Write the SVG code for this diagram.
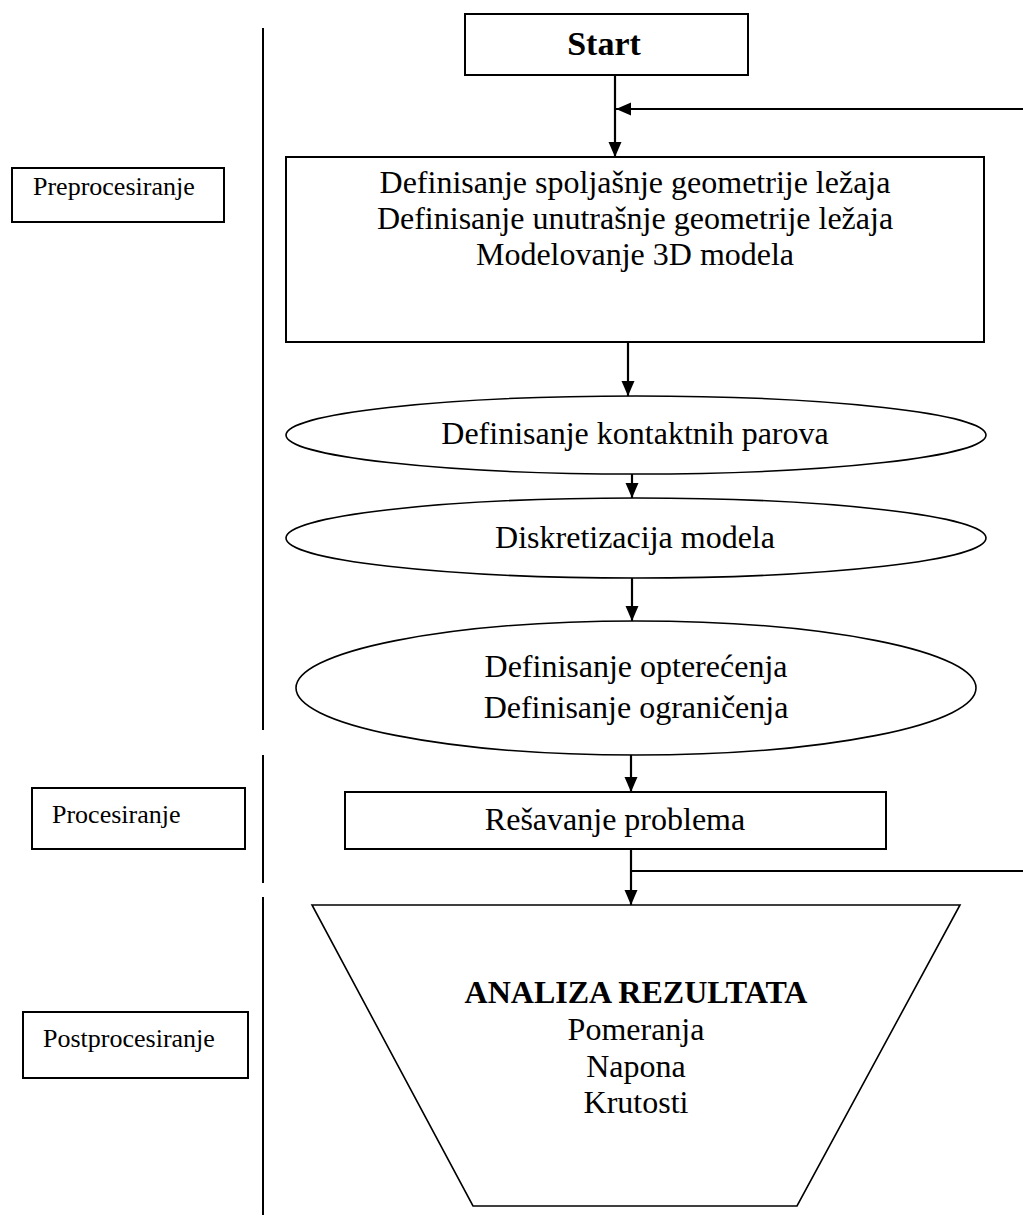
<svg xmlns="http://www.w3.org/2000/svg" width="1023" height="1222" viewBox="0 0 1023 1222">
<defs>
<marker id="ah" markerUnits="userSpaceOnUse" markerWidth="16" markerHeight="14" refX="15" refY="7" orient="auto">
<path d="M0,0.5 L15,7 L0,13.5 Z" fill="#000"/>
</marker>
<style>
.shape{fill:#fff;stroke:#000;stroke-width:2}
.thin{fill:#fff;stroke:#000;stroke-width:1.6}
.conn{fill:none;stroke:#000;stroke-width:2.2}
.div{fill:none;stroke:#000;stroke-width:2}
.t{font-family:"Liberation Serif","Times New Roman",serif;font-size:32px;fill:#000;text-anchor:middle}
.b{font-weight:bold}
.s{font-family:"Liberation Serif","Times New Roman",serif;font-size:26px;fill:#000}
</style>
</defs>
<rect width="1023" height="1222" fill="#fff"/>

<g id="dividers">
<line class="div" x1="263" y1="28" x2="263" y2="730"/>
<line class="div" x1="263" y1="755" x2="263" y2="883"/>
<line class="div" x1="263" y1="897" x2="263" y2="1215"/>
</g>

<g id="label-preprocesiranje">
<rect class="shape" x="12" y="168" width="212" height="54"/>
<text class="s" x="33" y="195">Preprocesiranje</text>
</g>
<g id="label-procesiranje">
<rect class="shape" x="32" y="788" width="213" height="61"/>
<text class="s" x="52" y="823">Procesiranje</text>
</g>
<g id="label-postprocesiranje">
<rect class="shape" x="23" y="1012" width="225" height="66"/>
<text class="s" x="43" y="1047">Postprocesiranje</text>
</g>

<g id="connectors">
<line class="conn" x1="615" y1="75" x2="615" y2="157" marker-end="url(#ah)"/>
<line class="conn" x1="1023" y1="109" x2="616" y2="109" marker-end="url(#ah)"/>
<line class="conn" x1="628" y1="342" x2="628" y2="396" marker-end="url(#ah)"/>
<line class="conn" x1="632" y1="474" x2="632" y2="498" marker-end="url(#ah)"/>
<line class="conn" x1="632" y1="578" x2="632" y2="621" marker-end="url(#ah)"/>
<line class="conn" x1="631" y1="755" x2="631" y2="792" marker-end="url(#ah)"/>
<line class="conn" x1="631" y1="849" x2="631" y2="905" marker-end="url(#ah)"/>
<line class="conn" x1="631" y1="871" x2="1023" y2="871"/>
</g>

<g id="start">
<rect class="shape" x="465" y="14" width="283" height="61"/>
<text class="t b" x="604" y="55" style="font-size:34px">Start</text>
</g>

<g id="geometry">
<rect class="shape" x="286" y="157" width="698" height="185"/>
<text class="t" x="635" y="193">Definisanje spoljašnje geometrije ležaja</text>
<text class="t" x="635" y="229">Definisanje unutrašnje geometrije ležaja</text>
<text class="t" x="635" y="265">Modelovanje 3D modela</text>
</g>

<g id="contact">
<ellipse class="thin" cx="636" cy="435" rx="350" ry="39"/>
<text class="t" x="635" y="444">Definisanje kontaktnih parova</text>
</g>

<g id="mesh">
<ellipse class="thin" cx="636" cy="538" rx="350" ry="40"/>
<text class="t" x="635" y="548">Diskretizacija modela</text>
</g>

<g id="loads">
<ellipse class="thin" cx="636" cy="688" rx="340" ry="67"/>
<text class="t" x="636" y="677">Definisanje opterećenja</text>
<text class="t" x="636" y="718">Definisanje ograničenja</text>
</g>

<g id="solve">
<rect class="shape" x="345" y="792" width="541" height="57"/>
<text class="t" x="615" y="830">Rešavanje problema</text>
</g>

<g id="results">
<polygon class="thin" points="312,905 960,905 797,1206 473,1206"/>
<text class="t b" x="636" y="1003">ANALIZA REZULTATA</text>
<text class="t" x="636" y="1040">Pomeranja</text>
<text class="t" x="636" y="1077">Napona</text>
<text class="t" x="636" y="1113">Krutosti</text>
</g>
</svg>
